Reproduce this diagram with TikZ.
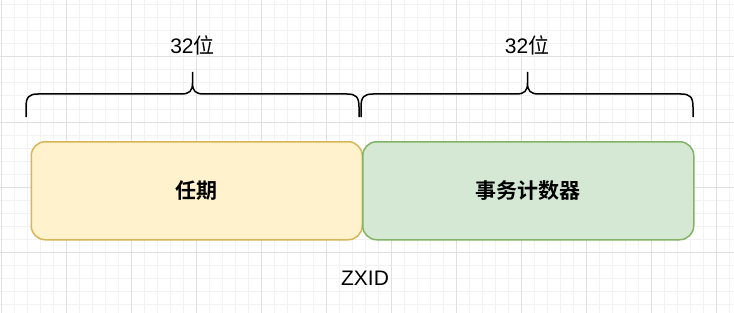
\documentclass[tikz,border=0pt]{standalone}
\usepackage{fontspec}
\setmainfont{Liberation Sans}
\newfontfamily\cjk{Noto Sans CJK SC}
\newfontfamily\cjkbold[FakeBold=0]{Noto Sans CJK SC Bold}
\definecolor{gridmajor}{HTML}{E0E0E0}
\definecolor{gridminor}{HTML}{F2F2F2}
\definecolor{yfill}{HTML}{FFF2CC}
\definecolor{ydraw}{HTML}{D6B656}
\definecolor{gfill}{HTML}{D5E8D4}
\definecolor{gdraw}{HTML}{82B366}
\tikzset{
  field/.style={draw, line width=1.5pt, rounded corners=14pt, minimum width=331pt, minimum height=98pt, inner sep=0pt, anchor=north west, font=\fontsize{21}{25}\selectfont\cjkbold},
  lbl/.style={inner sep=0pt, font=\fontsize{21}{25}\selectfont},
  brace/.style={draw=black, line width=1.5pt},
}
\begin{document}
\begin{tikzpicture}[x=1pt,y=-1pt]
\useasboundingbox (0,0) rectangle (734,313);
\fill[white] (0,0) rectangle (734,313);
% grid
\foreach \i in {0,...,57} {
  \draw[gridminor, line width=1pt] ({1.5+13*\i},0) -- ({1.5+13*\i},313);
}
\foreach \j in {0,...,24} {
  \draw[gridminor, line width=1pt] (0,{5+13*\j}) -- (734,{5+13*\j});
}
\foreach \i in {0,...,11} {
  \draw[gridmajor, line width=1pt] ({1.5+65*\i},0) -- ({1.5+65*\i},313);
}
\foreach \j in {0,...,4} {
  \draw[gridmajor, line width=1pt] (0,{57+65*(\j-1)}) -- (734,{57+65*(\j-1)});
}
% fields
\node[field, fill=yfill, draw=ydraw] (term) at (30.5,141) {任期};
\node[field, fill=gfill, draw=gdraw] (counter) at (362,141) {事务计数器};
% braces
\draw[brace] (26,117) -- (26,107) .. controls (26,97) and (29,94) .. (38,94) -- (181,94) .. controls (189.5,94) and (192.5,91) .. (192.5,83) -- (192.5,72)
  -- (192.5,83) .. controls (192.5,91) and (195.5,94) .. (204,94) -- (347,94) .. controls (356,94) and (359,97) .. (359,107) -- (359,117);
\draw[brace] (361,117) -- (361,107) .. controls (361,97) and (364,94) .. (373,94) -- (516,94) .. controls (524.5,94) and (527.5,91) .. (527.5,83) -- (527.5,72)
  -- (527.5,83) .. controls (527.5,91) and (530.5,94) .. (539,94) -- (681,94) .. controls (690,94) and (693,97) .. (693,107) -- (693,117);
% labels
\node[lbl] (b1) at (192.5,45) {32{\cjk 位}};
\node[lbl] (b2) at (527,45) {32{\cjk 位}};
\node[lbl] (zxid) at (365,278) {ZXID};
\end{tikzpicture}
\end{document}
